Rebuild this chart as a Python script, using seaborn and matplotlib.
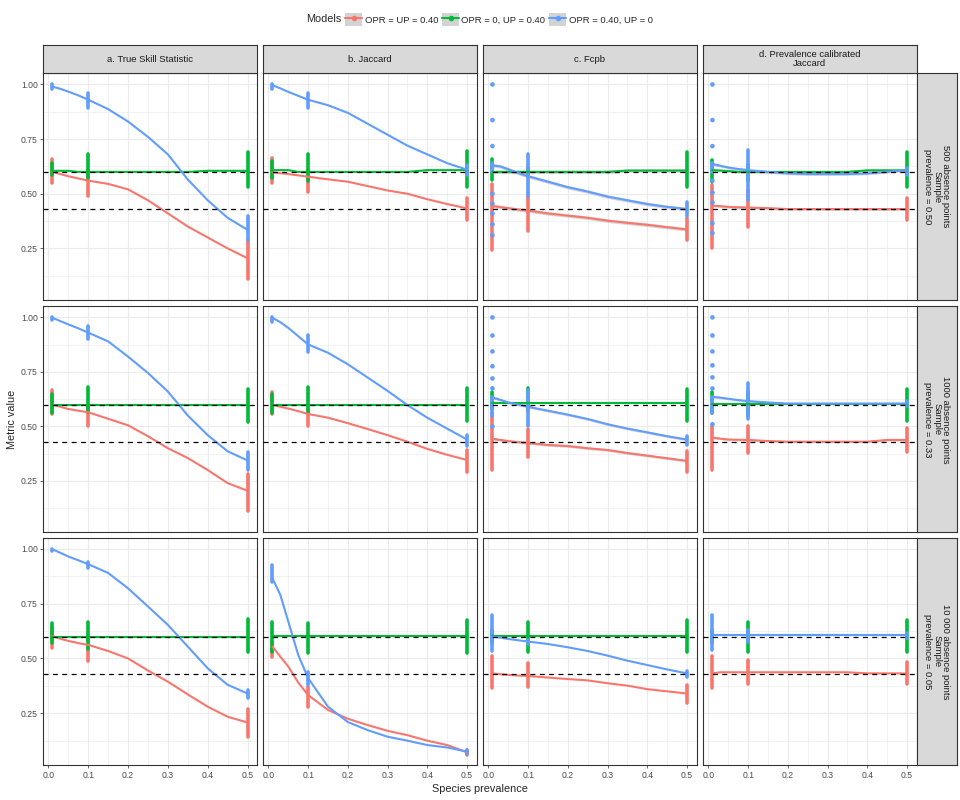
import numpy as np
import pandas as pd
import matplotlib
matplotlib.use("Agg")
import matplotlib.pyplot as plt
from matplotlib.patches import Patch
from matplotlib.lines import Line2D
from matplotlib.ticker import FormatStrFormatter
import seaborn as sns

# ---- data ----
models = ["OPR = UP = 0.40", "OPR = 0, UP = 0.40", "OPR = 0.40, UP = 0"]
model_colors = ["#F8766D", "#00BA38", "#619CFF"]
metrics = ["a. True Skill Statistic", "b. Jaccard", "c. Fcpb",
           "d. Prevalence calibrated\nJaccard"]
samples = ["500 absence points\nSample\nprevalence = 0.50",
           "1000 absence points\nSample\nprevalence = 0.33",
           "10 000 absence points\nSample\nprevalence = 0.05"]
reference_lines = [0.60, 0.43]

# prevalence levels that were simulated, and where the smooths are read
prevalence_levels = [0.01, 0.1, 0.5]
smooth_x = [0.01, 0.03, 0.05, 0.075, 0.1, 0.15, 0.2, 0.25, 0.3, 0.35, 0.4, 0.45, 0.5]

# smooth curves [red, green, blue] per panel
tss_500_curves = [
    [0.60, 0.59, 0.58, 0.57, 0.56, 0.545, 0.52, 0.47, 0.41, 0.35, 0.30, 0.25, 0.205],
    [0.605, 0.605, 0.605, 0.60, 0.60, 0.60, 0.60, 0.60, 0.60, 0.60, 0.605, 0.605, 0.605],
    [0.99, 0.98, 0.967, 0.95, 0.93, 0.887, 0.83, 0.76, 0.68, 0.565, 0.47, 0.39, 0.335]]
jac_500_curves = [
    [0.598, 0.594, 0.59, 0.584, 0.578, 0.566, 0.555, 0.535, 0.515, 0.50, 0.475, 0.453, 0.433],
    [0.608, 0.608, 0.608, 0.60, 0.60, 0.60, 0.60, 0.60, 0.60, 0.60, 0.608, 0.608, 0.608],
    [0.997, 0.982, 0.966, 0.948, 0.93, 0.905, 0.87, 0.82, 0.77, 0.72, 0.68, 0.64, 0.61]]
fcpb_500_curves = [
    [0.444, 0.439, 0.434, 0.428, 0.423, 0.41, 0.40, 0.39, 0.377, 0.367, 0.358, 0.347, 0.337],
    [0.60, 0.60, 0.60, 0.60, 0.60, 0.60, 0.60, 0.60, 0.60, 0.606, 0.606, 0.606, 0.606],
    [0.63, 0.625, 0.612, 0.595, 0.58, 0.555, 0.53, 0.51, 0.487, 0.47, 0.453, 0.44, 0.43]]
cal_500_curves = [
    [0.446, 0.443, 0.44, 0.438, 0.437, 0.434, 0.43, 0.43, 0.43, 0.43, 0.43, 0.43, 0.43],
    [0.608, 0.606, 0.604, 0.60, 0.60, 0.60, 0.60, 0.60, 0.60, 0.60, 0.607, 0.607, 0.607],
    [0.636, 0.628, 0.62, 0.613, 0.608, 0.60, 0.593, 0.59, 0.59, 0.59, 0.593, 0.60, 0.608]]

tss_1000_curves = [
    [0.60, 0.59, 0.58, 0.572, 0.565, 0.535, 0.505, 0.455, 0.40, 0.355, 0.30, 0.24, 0.205],
    [0.60, 0.60, 0.60, 0.60, 0.60, 0.60, 0.60, 0.60, 0.60, 0.60, 0.60, 0.60, 0.60],
    [0.998, 0.983, 0.968, 0.95, 0.93, 0.89, 0.82, 0.745, 0.66, 0.55, 0.46, 0.386, 0.344]]
jac_1000_curves = [
    [0.60, 0.59, 0.582, 0.57, 0.557, 0.54, 0.515, 0.488, 0.46, 0.43, 0.397, 0.37, 0.346],
    [0.60, 0.60, 0.60, 0.60, 0.60, 0.60, 0.60, 0.60, 0.60, 0.60, 0.60, 0.60, 0.60],
    [0.998, 0.978, 0.952, 0.914, 0.876, 0.838, 0.785, 0.724, 0.663, 0.598, 0.54, 0.49, 0.44]]
fcpb_1000_curves = [
    [0.443, 0.438, 0.433, 0.428, 0.424, 0.415, 0.41, 0.40, 0.392, 0.378, 0.366, 0.354, 0.342],
    [0.607, 0.607, 0.607, 0.607, 0.607, 0.607, 0.607, 0.607, 0.607, 0.607, 0.607, 0.607, 0.607],
    [0.633, 0.622, 0.61, 0.60, 0.59, 0.572, 0.554, 0.534, 0.51, 0.49, 0.473, 0.455, 0.44]]
cal_1000_curves = [
    [0.449, 0.444, 0.44, 0.439, 0.438, 0.433, 0.43, 0.43, 0.43, 0.43, 0.43, 0.438, 0.438],
    [0.604, 0.604, 0.604, 0.604, 0.604, 0.604, 0.604, 0.604, 0.604, 0.604, 0.604, 0.604, 0.604],
    [0.636, 0.632, 0.627, 0.621, 0.616, 0.61, 0.605, 0.605, 0.605, 0.605, 0.605, 0.605, 0.605]]

tss_10000_curves = [
    [0.603, 0.59, 0.58, 0.57, 0.562, 0.534, 0.50, 0.445, 0.394, 0.336, 0.28, 0.234, 0.208],
    [0.60, 0.60, 0.60, 0.60, 0.60, 0.60, 0.60, 0.60, 0.60, 0.60, 0.60, 0.60, 0.60],
    [0.998, 0.982, 0.965, 0.948, 0.93, 0.89, 0.82, 0.737, 0.653, 0.554, 0.455, 0.38, 0.34]]
jac_10000_curves = [
    [0.554, 0.508, 0.463, 0.39, 0.333, 0.265, 0.225, 0.196, 0.17, 0.15, 0.125, 0.105, 0.072],
    [0.603, 0.603, 0.603, 0.603, 0.603, 0.603, 0.603, 0.603, 0.603, 0.603, 0.603, 0.603, 0.603],
    [0.866, 0.79, 0.668, 0.516, 0.41, 0.28, 0.21, 0.173, 0.143, 0.125, 0.105, 0.094, 0.075]]
fcpb_10000_curves = [
    [0.432, 0.428, 0.425, 0.422, 0.42, 0.413, 0.406, 0.40, 0.387, 0.376, 0.36, 0.35, 0.34],
    [0.604, 0.604, 0.604, 0.604, 0.604, 0.604, 0.604, 0.604, 0.604, 0.604, 0.604, 0.604, 0.604],
    [0.60, 0.595, 0.589, 0.583, 0.577, 0.566, 0.551, 0.534, 0.513, 0.49, 0.47, 0.45, 0.432]]
cal_10000_curves = [
    [0.432, 0.437, 0.437, 0.437, 0.437, 0.437, 0.437, 0.437, 0.437, 0.437, 0.432, 0.432, 0.432],
    [0.605, 0.605, 0.605, 0.605, 0.605, 0.605, 0.605, 0.605, 0.605, 0.605, 0.605, 0.605, 0.605],
    [0.607, 0.607, 0.607, 0.607, 0.607, 0.607, 0.607, 0.607, 0.607, 0.607, 0.607, 0.607, 0.607]]

# spread of replicate values at each prevalence level: [red, green, blue] x [0.01, 0.1, 0.5]
tss_500_low = [[0.55, 0.49, 0.11], [0.585, 0.57, 0.53], [0.98, 0.89, 0.29]]
tss_500_high = [[0.66, 0.61, 0.29], [0.64, 0.68, 0.69], [1.00, 0.96, 0.40]]
jac_500_low = [[0.55, 0.51, 0.38], [0.57, 0.56, 0.53], [0.98, 0.89, 0.585]]
jac_500_high = [[0.665, 0.61, 0.48], [0.65, 0.68, 0.695], [1.00, 0.96, 0.63]]
fcpb_500_low = [[0.243, 0.33, 0.29], [0.563, 0.58, 0.53], [0.60, 0.49, 0.40]]
fcpb_500_high = [[0.545, 0.50, 0.39], [0.657, 0.62, 0.69], [0.64, 0.68, 0.46]]
cal_500_low = [[0.25, 0.35, 0.38], [0.555, 0.56, 0.53], [0.60, 0.47, 0.585]]
cal_500_high = [[0.54, 0.517, 0.48], [0.655, 0.63, 0.69], [0.64, 0.70, 0.62]]

tss_1000_low = [[0.557, 0.50, 0.11], [0.56, 0.565, 0.52], [0.99, 0.90, 0.30]]
tss_1000_high = [[0.665, 0.595, 0.28], [0.65, 0.68, 0.67], [1.00, 0.96, 0.385]]
jac_1000_low = [[0.557, 0.50, 0.293], [0.56, 0.565, 0.526], [0.98, 0.84, 0.41]]
jac_1000_high = [[0.66, 0.58, 0.39], [0.65, 0.68, 0.675], [1.00, 0.92, 0.46]]
fcpb_1000_low = [[0.30, 0.36, 0.293], [0.58, 0.57, 0.526], [0.55, 0.50, 0.415]]
fcpb_1000_high = [[0.56, 0.49, 0.386], [0.66, 0.675, 0.67], [0.633, 0.665, 0.457]]
cal_1000_low = [[0.30, 0.377, 0.385], [0.563, 0.55, 0.525], [0.56, 0.532, 0.593]]
cal_1000_high = [[0.50, 0.50, 0.494], [0.657, 0.66, 0.672], [0.636, 0.697, 0.615]]

tss_10000_low = [[0.55, 0.49, 0.14], [0.57, 0.545, 0.53], [0.99, 0.915, 0.32]]
tss_10000_high = [[0.645, 0.607, 0.27], [0.66, 0.665, 0.68], [1.00, 0.94, 0.356]]
jac_10000_low = [[0.508, 0.28, 0.06], [0.53, 0.527, 0.527], [0.85, 0.38, 0.064]]
jac_10000_high = [[0.577, 0.37, 0.082], [0.668, 0.663, 0.676], [0.927, 0.44, 0.082]]
fcpb_10000_low = [[0.367, 0.37, 0.295], [0.57, 0.528, 0.528], [0.534, 0.565, 0.417]]
fcpb_10000_high = [[0.51, 0.478, 0.38], [0.63, 0.665, 0.676], [0.70, 0.585, 0.443]]
cal_10000_low = [[0.367, 0.382, 0.382], [0.57, 0.528, 0.528], [0.54, 0.577, 0.595]]
cal_10000_high = [[0.51, 0.493, 0.482], [0.63, 0.665, 0.676], [0.70, 0.63, 0.615]]

# isolated blue replicates at prevalence 0.01
fcpb_500_blue_extra = [1.0, 0.837, 0.718, 0.50, 0.455, 0.41, 0.36, 0.31]
cal_500_blue_extra = [1.0, 0.837, 0.718, 0.56, 0.505, 0.46, 0.365, 0.32]
fcpb_1000_blue_extra = [1.0, 0.917, 0.844, 0.776, 0.72, 0.675, 0.50]
cal_1000_blue_extra = [1.0, 0.917, 0.844, 0.78, 0.725, 0.674, 0.51]

# half width of the grey confidence band around the smooths, per row and column
se_500 = [0.0, 0.0, 0.008, 0.006]
se_1000 = [0.0, 0.0, 0.006, 0.005]
se_10000 = [0.0, 0.0, 0.0, 0.0]

# ---- long tables ----
grid = [
    [(tss_500_curves, tss_500_low, tss_500_high, []),
     (jac_500_curves, jac_500_low, jac_500_high, []),
     (fcpb_500_curves, fcpb_500_low, fcpb_500_high, fcpb_500_blue_extra),
     (cal_500_curves, cal_500_low, cal_500_high, cal_500_blue_extra)],
    [(tss_1000_curves, tss_1000_low, tss_1000_high, []),
     (jac_1000_curves, jac_1000_low, jac_1000_high, []),
     (fcpb_1000_curves, fcpb_1000_low, fcpb_1000_high, fcpb_1000_blue_extra),
     (cal_1000_curves, cal_1000_low, cal_1000_high, cal_1000_blue_extra)],
    [(tss_10000_curves, tss_10000_low, tss_10000_high, []),
     (jac_10000_curves, jac_10000_low, jac_10000_high, []),
     (fcpb_10000_curves, fcpb_10000_low, fcpb_10000_high, []),
     (cal_10000_curves, cal_10000_low, cal_10000_high, [])],
]
se_rows = [se_500, se_1000, se_10000]

curve_rows, range_rows, extra_rows = [], [], []
for r in range(3):
    for c in range(4):
        curves, low, high, extra = grid[r][c]
        for m, model in enumerate(models):
            for x, y in zip(smooth_x, curves[m]):
                curve_rows.append((r, c, model, x, y))
            for k, p in enumerate(prevalence_levels):
                unit = f"{m}-{k}"
                range_rows.append((r, c, model, unit, p, low[m][k]))
                range_rows.append((r, c, model, unit, p, high[m][k]))
        for y in extra:
            extra_rows.append((r, c, models[2], prevalence_levels[0], y))

curve_df = pd.DataFrame(curve_rows, columns=["row", "col", "model", "prevalence", "value"])
range_df = pd.DataFrame(range_rows, columns=["row", "col", "model", "unit", "prevalence", "value"])
extra_df = pd.DataFrame(extra_rows, columns=["row", "col", "model", "prevalence", "value"])

# ---- figure ----
sns.set_style("white")
plt.rcParams["font.family"] = ["Liberation Sans", "DejaVu Sans"]
palette = dict(zip(models, model_colors))

W, H = 960, 800
fig = plt.figure(figsize=(9.6, 8), dpi=100)


def px_axes(x0, y0, x1, y1):
    return fig.add_axes([x0 / W, 1 - y1 / H, (x1 - x0) / W, (y1 - y0) / H])


cols_px = [(42.7, 257.3), (262.7, 476.7), (482.7, 696.7), (702.7, 916.7)]
rows_px = [(73.3, 300.0), (306.3, 532.4), (537.7, 765.0)]
border = "#333333"

for r in range(3):
    for c in range(4):
        x0, x1 = cols_px[c]
        y0, y1 = rows_px[r]
        ax = px_axes(x0, y0, x1, y1)
        sel = lambda d: d[(d["row"] == r) & (d["col"] == c)]

        # replicate spreads
        sns.lineplot(data=sel(range_df), x="prevalence", y="value", hue="model",
                     units="unit", estimator=None, sort=False, palette=palette,
                     hue_order=models, lw=2.6, solid_capstyle="round",
                     legend=False, ax=ax, zorder=2)
        ex = sel(extra_df)
        if len(ex):
            sns.scatterplot(data=ex, x="prevalence", y="value", hue="model",
                            palette=palette, hue_order=models, s=11, linewidth=0,
                            legend=False, ax=ax, zorder=2.5)

        # smooths with grey band
        hw = se_rows[r][c]
        cd = sel(curve_df)
        if hw > 0:
            for model in models:
                g = cd[cd["model"] == model]
                ax.fill_between(g["prevalence"], g["value"] - hw, g["value"] + hw,
                                color="#999999", alpha=0.4, lw=0, zorder=3)
        sns.lineplot(data=cd, x="prevalence", y="value", hue="model",
                     estimator=None, palette=palette, hue_order=models, lw=1.5,
                     legend=False, ax=ax, zorder=3.5)

        for yv in reference_lines:
            ax.axhline(yv, color="black", lw=0.9, ls=(0, (4, 3.5)), zorder=5)

        ax.set_xlim(-0.0145, 0.5245)
        ax.set_ylim(0.014, 1.051)
        ax.set_xticks([0.0, 0.1, 0.2, 0.3, 0.4, 0.5])
        ax.set_xticks([0.05, 0.15, 0.25, 0.35, 0.45], minor=True)
        ax.set_yticks([0.25, 0.50, 0.75, 1.00])
        ax.set_yticks([0.125, 0.375, 0.625, 0.875], minor=True)
        ax.xaxis.set_major_formatter(FormatStrFormatter("%.1f"))
        ax.yaxis.set_major_formatter(FormatStrFormatter("%.2f"))
        ax.grid(which="major", color="#EBEBEB", lw=0.8)
        ax.grid(which="minor", color="#EBEBEB", lw=0.45)
        ax.set_axisbelow(True)
        ax.set_xlabel("")
        ax.set_ylabel("")
        for sp in ax.spines.values():
            sp.set_color(border)
            sp.set_linewidth(0.8)
        ax.tick_params(which="minor", length=0)
        ax.tick_params(which="major", length=2, width=0.5, color=border,
                       labelsize=6.2, labelcolor="#4D4D4D", pad=1.5)
        ax.tick_params(axis="x", pad=2.5)
        ax.tick_params(axis="y", left=(c == 0), labelleft=(c == 0))
        ax.tick_params(axis="x", bottom=(r == 2), labelbottom=(r == 2))

# facet strips
for c in range(4):
    x0, x1 = cols_px[c]
    s = px_axes(x0, 45.0, x1, 73.3)
    s.set_facecolor("#D9D9D9")
    s.set_xticks([])
    s.set_yticks([])
    for sp in s.spines.values():
        sp.set_color(border)
        sp.set_linewidth(0.8)
    s.text(0.5, 0.5, metrics[c], ha="center", va="center", fontsize=6.8,
           color="#1A1A1A", linespacing=1.0, transform=s.transAxes)

for r in range(3):
    y0, y1 = rows_px[r]
    s = px_axes(916.7, y0, 957.0, y1)
    s.set_facecolor("#D9D9D9")
    s.set_xticks([])
    s.set_yticks([])
    for sp in s.spines.values():
        sp.set_color(border)
        sp.set_linewidth(0.8)
    s.text(0.5, 0.5, samples[r], ha="center", va="center", rotation=270,
           fontsize=6.8, color="#1A1A1A", linespacing=1.0, transform=s.transAxes)

# axis titles
fig.text(479.7 / W, 1 - 789 / H, "Species prevalence", ha="center", va="center",
         fontsize=7.8)
fig.text(12 / W, 1 - 419 / H, "Metric value", ha="center", va="center",
         rotation=90, fontsize=7.8)

# legend
fig.text(341 / W, 1 - 19.5 / H, "Models", ha="right", va="center", fontsize=7.8)
handles = [(Patch(facecolor="#D3D3D3", edgecolor="none"),
            Line2D([0], [0], color=col, lw=1.5, marker="o", markersize=3))
           for col in model_colors]
fig.legend(handles, models, loc="center", bbox_to_anchor=(499 / W, 1 - 19.5 / H),
           ncol=3, frameon=False, fontsize=6.8, handlelength=1.8, handleheight=1.8,
           handletextpad=0.25, columnspacing=0.4, borderaxespad=0, borderpad=0)

fig.savefig("out.png", dpi=100)
